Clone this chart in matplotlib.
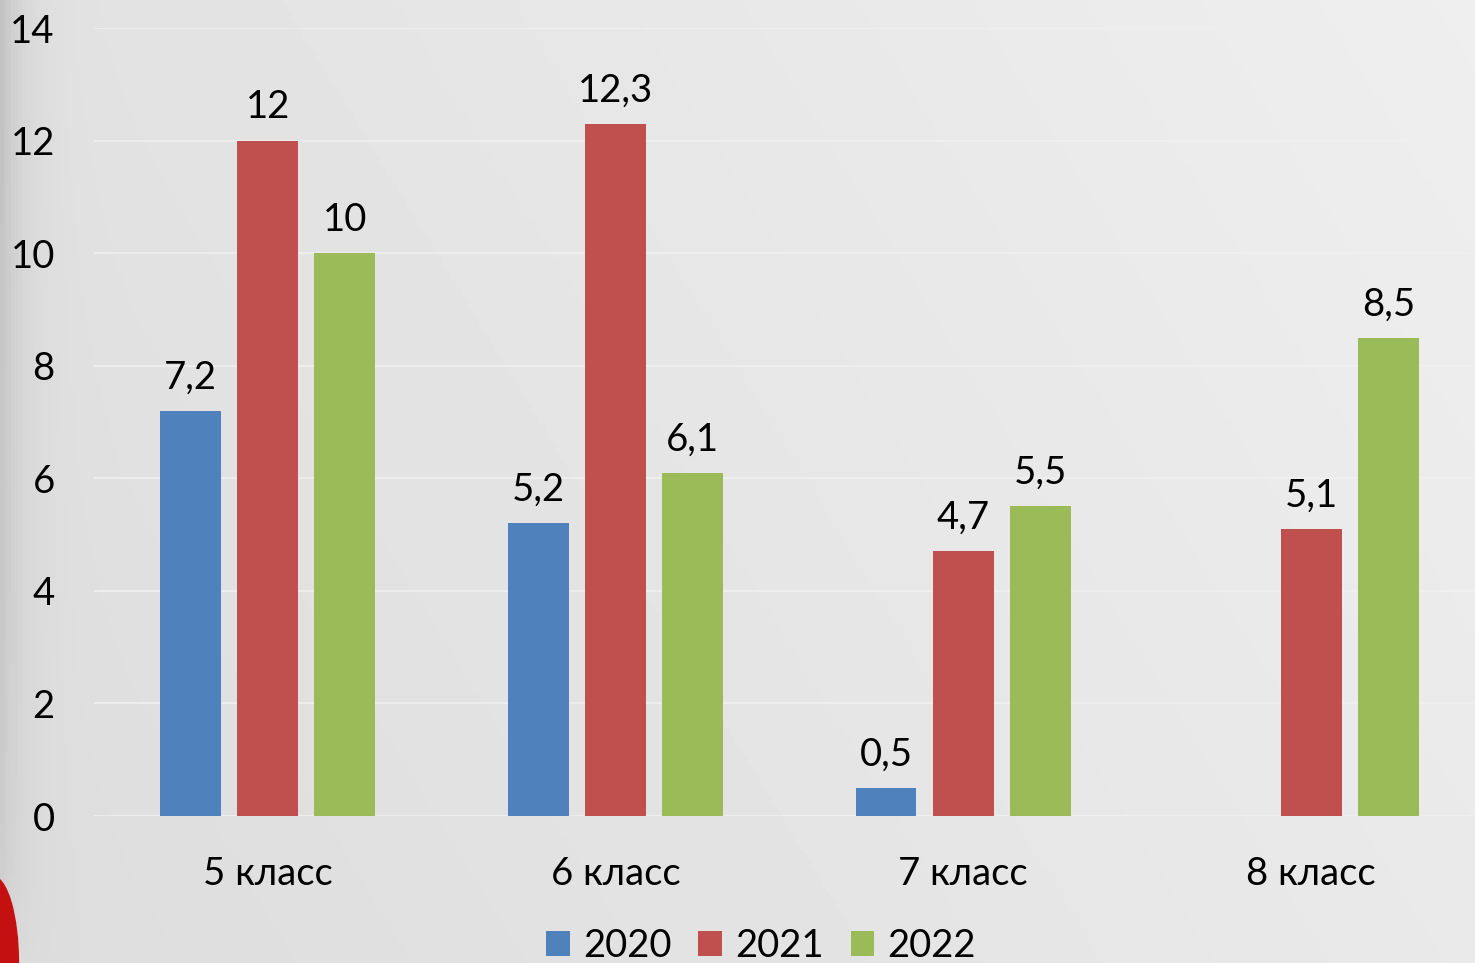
import numpy as np
import matplotlib.pyplot as plt
from matplotlib.patches import Ellipse

# данные
categories = ["5 класс", "6 класс", "7 класс", "8 класс"]
years = ["2020", "2021", "2022"]
values_2020 = [7.2, 5.2, 0.5, np.nan]
values_2021 = [12, 12.3, 4.7, 5.1]
values_2022 = [10, 6.1, 5.5, 8.5]
y_ticks = [0, 2, 4, 6, 8, 10, 12, 14]

colors = ["#4F81BD", "#C0504D", "#9BBB59"]

plt.rcParams["font.family"] = ["Lato", "DejaVu Sans"]

fig = plt.figure(figsize=(14.75, 9.63), dpi=100)

# фон "бумага"
bg = fig.add_axes([0, 0, 1, 1], zorder=-10)
xx = np.linspace(0, 1, 400)
yy = np.linspace(0, 1, 300)
gx, gy = np.meshgrid(xx, yy)
shade = 0.885 + 0.05 * gx - 0.02 * gy
shade -= 0.12 * np.exp(-gx / 0.015) * (1 - gy) ** 0.3
bg.imshow(shade, cmap="gray", vmin=0, vmax=1, aspect="auto",
          extent=[0, 1, 0, 1], origin="upper")
bg.add_patch(Ellipse((-0.005, 0.0), 0.035, 0.18, color="#C41010"))
bg.set_xlim(0, 1)
bg.set_ylim(0, 1)
bg.axis("off")

ax = fig.add_axes([0.0635, 0.1526, 0.9433, 0.8183])
ax.set_facecolor("none")

x = np.arange(len(categories))
width = 0.175
offset = 0.222
series = [values_2020, values_2021, values_2022]

for i, (vals, year) in enumerate(zip(series, years)):
    bars = ax.bar(x + (i - 1) * offset, vals, width, color=colors[i],
                  label=year, zorder=3)
    labels = ["" if np.isnan(v) else f"{v:g}".replace(".", ",") for v in vals]
    ax.bar_label(bars, labels=labels, padding=11, fontsize=27.5)

ax.set_xlim(-0.5, 3.5)
ax.set_ylim(0, 14)
ax.set_yticks(y_ticks)
ax.set_xticks(x)
ax.set_xticklabels(categories)
ax.tick_params(axis="both", length=0, labelsize=27.5)
ax.tick_params(axis="y", pad=28)
ax.tick_params(axis="x", pad=29)
ax.yaxis.grid(True, color="#F0F0F0", linewidth=1.2, zorder=0)
for s in ax.spines.values():
    s.set_visible(False)

fig.legend(loc="center", bbox_to_anchor=(0.516, 0.018), ncol=3,
           frameon=False, fontsize=27.5, handlelength=0.62, handleheight=0.62,
           handletextpad=0.35, columnspacing=0.7)

fig.savefig("out.png", dpi=100)
